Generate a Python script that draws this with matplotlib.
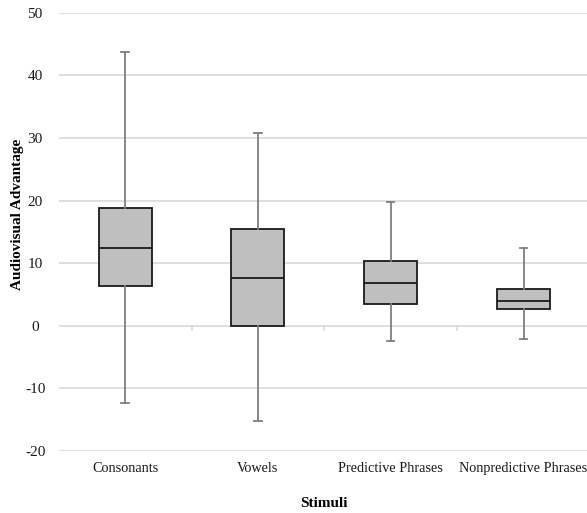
import numpy as np
import matplotlib.pyplot as plt

categories = ["Consonants", "Vowels", "Predictive Phrases", "Nonpredictive Phrases"]
whisker_low = [-12.4, -15.2, -2.5, -2.1]
q1 = [6.3, 0.0, 3.5, 2.6]
medians = [12.5, 7.7, 6.9, 3.9]
q3 = [18.8, 15.4, 10.3, 5.8]
whisker_high = [43.8, 30.8, 19.7, 12.4]

plt.rcParams['font.family'] = ['Liberation Serif', 'DejaVu Serif']
plt.rcParams['axes.unicode_minus'] = False

fig = plt.figure(figsize=(5.87, 5.13), dpi=100)
ax = fig.add_axes([0.1, 0.121, 0.905, 0.854])

stats = []
for i, name in enumerate(categories):
    stats.append(dict(label=name, whislo=whisker_low[i], q1=q1[i], med=medians[i],
                      q3=q3[i], whishi=whisker_high[i], fliers=[]))

pos = np.arange(len(categories))
ax.bxp(stats, positions=pos, widths=0.4, patch_artist=True, showfliers=False,
       boxprops=dict(facecolor='#bfbfbf', edgecolor='#1a1a1a', linewidth=1.3),
       medianprops=dict(color='#1a1a1a', linewidth=1.3),
       whiskerprops=dict(color='#7f7f7f', linewidth=1.3),
       capprops=dict(color='#7f7f7f', linewidth=1.3),
       capwidths=0.055, zorder=3)

ax.set_ylim(-20, 50)
ax.set_xlim(-0.5, len(categories) - 0.5)
ax.set_yticks(np.arange(-20, 51, 10))
ax.yaxis.grid(True, color='#d9d9d9', linewidth=1.2)
ax.set_axisbelow(True)
for s in ax.spines.values():
    s.set_visible(False)
ax.tick_params(axis='both', length=0, colors='#1a1a1a')
ax.tick_params(axis='y', pad=17, labelsize=11)
ax.tick_params(axis='x', pad=8, labelsize=10.3)
for lab in ax.get_yticklabels():
    lab.set_horizontalalignment('center')

# small category boundary ticks on the zero line
for b in pos[:-1] + 0.5:
    ax.plot([b, b], [0, -0.6], color='#d9d9d9', linewidth=1.2, zorder=1)

ax.set_ylabel("Audiovisual Advantage", fontsize=11, fontweight='bold')
ax.yaxis.set_label_coords(-0.066, 0.54)
ax.set_xlabel("Stimuli", fontsize=11, fontweight='bold', labelpad=16)

fig.savefig("out.png", dpi=100)
